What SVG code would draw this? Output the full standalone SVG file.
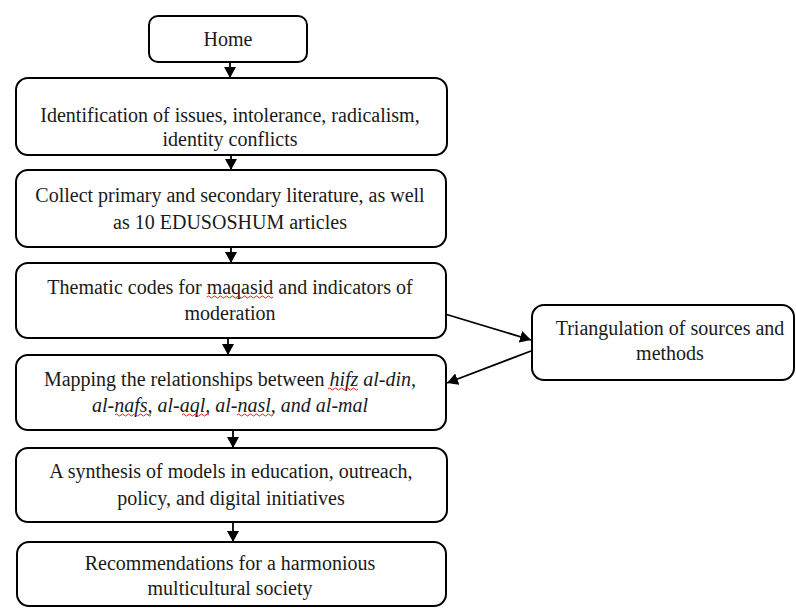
<svg xmlns="http://www.w3.org/2000/svg" width="796" height="608" viewBox="0 0 796 608">
<defs>
<style>
.box{fill:#fff;stroke:#000;stroke-width:2}
.t{font-family:"Liberation Serif","Times New Roman",serif;font-size:20px;fill:#1a1a1a;text-anchor:middle}
.i{font-style:italic}
.c{stroke:#000;stroke-width:1.8;fill:none}
.sq{stroke:#e02020;stroke-width:1;fill:none}
</style>
<marker id="ah" viewBox="0 0 11 12" refX="11" refY="6" markerWidth="11" markerHeight="12" markerUnits="userSpaceOnUse" orient="auto">
<path d="M0,0 L11,6 L0,12 Z" fill="#000"/>
</marker>
</defs>
<rect width="796" height="608" fill="#fff"/>
<g id="connectors">
<line class="c" x1="230" y1="62" x2="230" y2="78" marker-end="url(#ah)"/>
<line class="c" x1="231" y1="155" x2="231" y2="170" marker-end="url(#ah)"/>
<line class="c" x1="231" y1="247" x2="231" y2="263" marker-end="url(#ah)"/>
<line class="c" x1="228" y1="338" x2="228" y2="355" marker-end="url(#ah)"/>
<line class="c" x1="233" y1="430" x2="233" y2="448" marker-end="url(#ah)"/>
<line class="c" x1="233" y1="522" x2="233" y2="542" marker-end="url(#ah)"/>
<line class="c" x1="445" y1="314" x2="531" y2="340" marker-end="url(#ah)"/>
<line class="c" x1="531" y1="351" x2="447" y2="383" marker-end="url(#ah)"/>
</g>
<g id="home">
<rect class="box" x="149" y="16" width="158" height="46" rx="9"/>
<text class="t" x="228" y="46">Home</text>
</g>
<g id="identification">
<rect class="box" x="16" y="78" width="431" height="77" rx="12"/>
<text class="t" x="230" y="122">Identification of issues, intolerance, radicalism,</text>
<text class="t" x="230" y="146">identity conflicts</text>
</g>
<g id="collect">
<rect class="box" x="16" y="170" width="430" height="77" rx="12"/>
<text class="t" x="230" y="202">Collect primary and secondary literature, as well</text>
<text class="t" x="230" y="229">as 10 EDUSOSHUM  articles</text>
</g>
<g id="thematic">
<rect class="box" x="16" y="263" width="430" height="75" rx="12"/>
<text class="t" x="230" y="294">Thematic codes for maqasid and indicators of</text>
<text class="t" x="230" y="320">moderation</text>
<path class="sq" d="M207,297 q1.5,-2 3,0 t3,0 t3,0 t3,0 t3,0 t3,0 t3,0 t3,0 t3,0 t3,0 t3,0 t3,0 t3,0 t3,0 t3,0 t3,0 t3,0 t3,0 t3,0 t3,0 t3,0 t3,0"/>
</g>
<g id="mapping">
<rect class="box" x="16" y="355" width="430" height="75" rx="12"/>
<text class="t" x="230" y="386">Mapping the relationships between <tspan class="i">hifz al-din,</tspan></text>
<text class="t i" x="230" y="412">al-nafs, al-aql, al-nasl, and al-mal</text>
<path class="sq" d="M328,389 q1.5,-2 3,0 t3,0 t3,0 t3,0 t3,0 t3,0 t3,0 t3,0 t3,0 t3,0"/>
<path class="sq" d="M115,415 q1.5,-2 3,0 t3,0 t3,0 t3,0 t3,0 t3,0 t3,0 t3,0 t3,0 t3,0 t3,0 t3,0"/>
<path class="sq" d="M182,415 q1.5,-2 3,0 t3,0 t3,0 t3,0 t3,0 t3,0 t3,0 t3,0 t3,0"/>
<path class="sq" d="M237,415 q1.5,-2 3,0 t3,0 t3,0 t3,0 t3,0 t3,0 t3,0 t3,0 t3,0 t3,0 t3,0 t3,0"/>
</g>
<g id="synthesis">
<rect class="box" x="16" y="448" width="431" height="74" rx="12"/>
<text class="t" x="231" y="478">A synthesis of models in education, outreach,</text>
<text class="t" x="231" y="505">policy, and digital initiatives</text>
</g>
<g id="recommendations">
<rect class="box" x="17" y="542" width="429" height="64" rx="12"/>
<text class="t" x="230" y="570">Recommendations for a harmonious</text>
<text class="t" x="230" y="595">multicultural society</text>
</g>
<g id="triangulation">
<rect class="box" x="532" y="305" width="262" height="75" rx="12"/>
<text class="t" x="670" y="335">Triangulation of sources and</text>
<text class="t" x="670" y="360">methods</text>
</g>
</svg>
